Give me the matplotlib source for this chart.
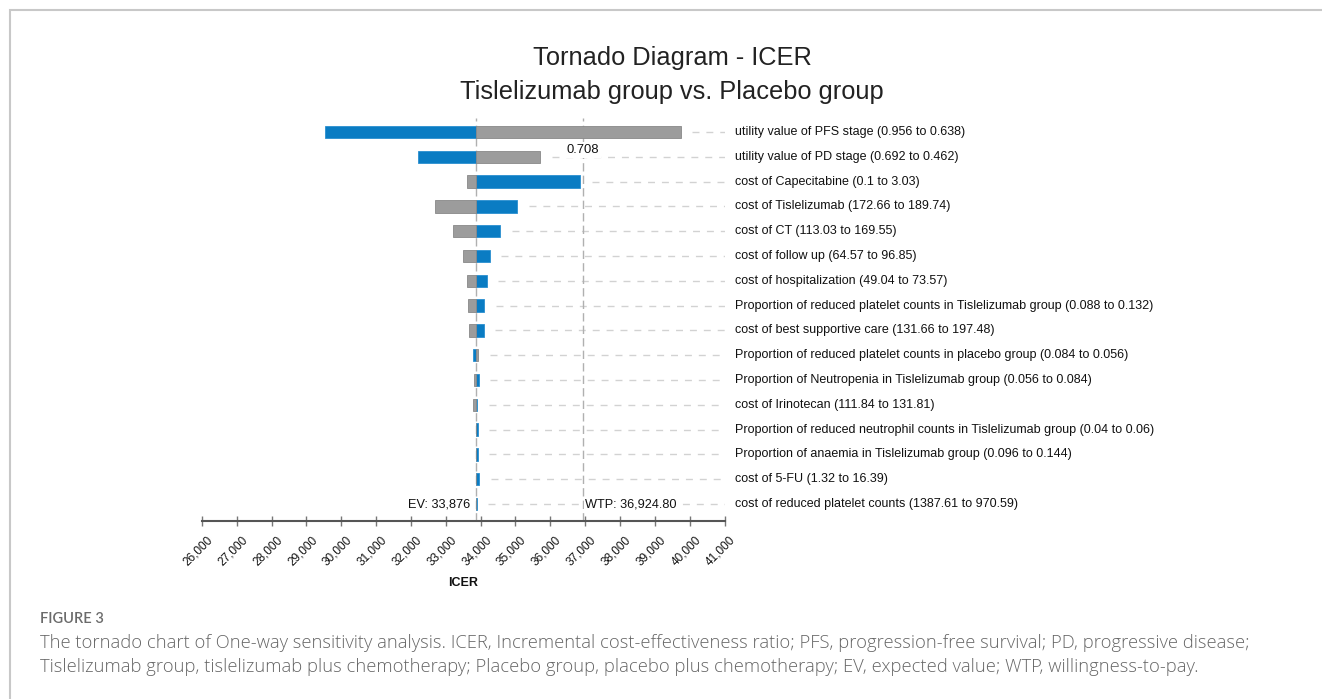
import numpy as np
import matplotlib.pyplot as plt
from matplotlib.patches import Rectangle
from matplotlib.transforms import ScaledTranslation

# Параметри та значення ICER
params = [
    "utility value of PFS stage (0.956 to 0.638)",
    "utility value of PD stage (0.692 to 0.462)",
    "cost of Capecitabine (0.1 to 3.03)",
    "cost of Tislelizumab (172.66 to 189.74)",
    "cost of CT (113.03 to 169.55)",
    "cost of follow up (64.57 to 96.85)",
    "cost of hospitalization (49.04 to 73.57)",
    "Proportion of reduced platelet counts in Tislelizumab group (0.088 to 0.132)",
    "cost of best supportive care (131.66 to 197.48)",
    "Proportion of reduced platelet counts in placebo group (0.084 to 0.056)",
    "Proportion of Neutropenia in Tislelizumab group (0.056 to 0.084)",
    "cost of Irinotecan (111.84 to 131.81)",
    "Proportion of reduced neutrophil counts in Tislelizumab group (0.04 to 0.06)",
    "Proportion of anaemia in Tislelizumab group (0.096 to 0.144)",
    "cost of 5-FU (1.32 to 16.39)",
    "cost of reduced platelet counts (1387.61 to 970.59)",
]
icer_blue = [29530, 32205, 36860, 35045, 34570, 34265, 34170, 34110,
             34085, 33795, 33940, 33910, 33920, 33920, 33955, 33882]
icer_gray = [39745, 35705, 33605, 32695, 33210, 33480, 33605, 33630,
             33660, 33930, 33805, 33785, 33870, 33868, 33866, 33872]

ev = 33876
wtp = 36924.80
threshold_label = "0.708"
xticks = np.arange(26000, 41001, 1000)

blue = '#0a7cc3'
gray = '#9c9c9c'

plt.rcParams['font.family'] = ['Liberation Sans', 'DejaVu Sans']

fig = plt.figure(figsize=(13.22, 6.99), dpi=100)
fig.patch.set_facecolor('white')

# рамка навколо рисунка
fig.patches.append(Rectangle((9.5 / 1322, -0.1), 1.2, 1.1 - 10.5 / 699,
                             transform=fig.transFigure, fill=False,
                             edgecolor='#c8c8c8', linewidth=1.5))

ax = fig.add_axes([201.8 / 1322, (699 - 521) / 699, 522.8 / 1322, 403 / 699])
n = len(params)
y = np.arange(n)

for i in range(n):
    ax.barh(y[i], icer_blue[i] - ev, left=ev, height=0.5, color=blue,
            edgecolor='#2a8fd0', linewidth=0.6, zorder=3)
    ax.barh(y[i], icer_gray[i] - ev, left=ev, height=0.5, color=gray,
            edgecolor='#888888', linewidth=0.6, zorder=3)
    start = max(icer_blue[i], icer_gray[i], ev) + 330
    ax.plot([start, 41000], [y[i], y[i]], color='#d2d2d2', lw=1,
            dashes=(5, 5), zorder=1)
    ax.text(41290, y[i], params[i], fontsize=9, va='center', ha='left',
            color='#111111', clip_on=False)

ax.axvline(ev, color='#b0b0b0', lw=1, dashes=(6, 3), zorder=2)
ax.axvline(wtp, color='#b0b0b0', lw=1, dashes=(6, 3), zorder=2)

ax.text(ev - 170, n - 1, "EV: 33,876", fontsize=9.2, ha='right', va='center',
        color='#111111', zorder=4)
ax.text(wtp + 80, n - 1, "WTP: 36,924.80", fontsize=9.2, ha='left', va='center',
        color='#111111', zorder=4,
        bbox=dict(facecolor='white', edgecolor='none', pad=1))
ax.text(wtp, 0.72, threshold_label, fontsize=9.4, ha='center', va='center',
        color='#111111', zorder=4,
        bbox=dict(facecolor='white', edgecolor='none', pad=1.5))

ax.set_xlim(26000, 41000)
ax.set_ylim(n - 1 + 0.685, -0.565)
ax.set_yticks([])
for s in ['left', 'right', 'top']:
    ax.spines[s].set_visible(False)
ax.spines['bottom'].set_color('#555555')
ax.spines['bottom'].set_linewidth(1.5)
ax.set_xticks(xticks)
ax.set_xticklabels([f"{v:,}" for v in xticks], rotation=45, ha='right',
                   va='center', rotation_mode='anchor', fontsize=8.5,
                   color='#111111')
ax.tick_params(axis='x', direction='inout', length=7, width=1,
               color='#777777', pad=4)
offset = ScaledTranslation(9 / 100, -6.6 / 100, fig.dpi_scale_trans)
for lab in ax.get_xticklabels():
    lab.set_transform(lab.get_transform() + offset)

fig.text(463 / 1322, 1 - 583 / 699, "ICER", fontsize=9, fontweight='bold',
         ha='center', va='center', color='#111111')

fig.text(672 / 1322, 1 - 58 / 699, "Tornado Diagram - ICER", fontsize=18.3,
         ha='center', va='center', color='#222222')
fig.text(672 / 1322, 1 - 92 / 699, "Tislelizumab group vs. Placebo group",
         fontsize=18.3, ha='center', va='center', color='#222222')

# підпис до рисунка
fig.text(40 / 1322, 1 - 619 / 699, "FIGURE 3", fontsize=10.5, ha='left',
         va='center', color='#6b6b6b', family='Lato', fontweight='semibold')
fig.text(40 / 1322, 1 - 643 / 699,
         "The tornado chart of One-way sensitivity analysis. ICER, Incremental "
         "cost-effectiveness ratio; PFS, progression-free survival; PD, progressive disease;",
         fontsize=13.2, ha='left', va='center', color='#666666',
         family='Open Sans', fontweight='light')
fig.text(40 / 1322, 1 - 667 / 699,
         "Tislelizumab group, tislelizumab plus chemotherapy; Placebo group, placebo "
         "plus chemotherapy; EV, expected value; WTP, willingness-to-pay.",
         fontsize=13.2, ha='left', va='center', color='#666666',
         family='Open Sans', fontweight='light')

fig.savefig("out.png", dpi=100, facecolor='white')
